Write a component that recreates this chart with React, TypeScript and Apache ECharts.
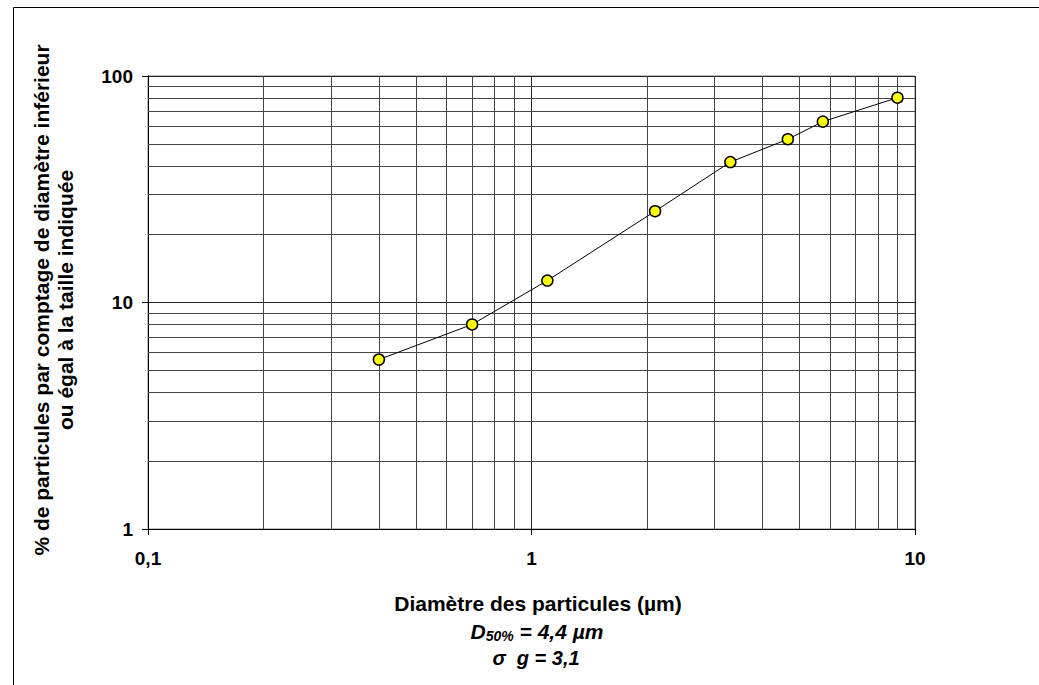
import React, { useEffect, useRef } from "react";
import * as echarts from "echarts";

const diameters = [0.4, 0.7, 1.1, 2.1, 3.3, 4.66, 5.75, 9.0];
const percents = [5.6, 8.0, 12.5, 25.3, 41.7, 52.6, 62.9, 80.2];
const xMinorGrid = [0.2, 0.3, 0.4, 0.5, 0.6, 0.7, 0.8, 0.9, 2, 3, 4, 5, 6, 7, 8, 9];
const yMinorGrid = [2, 3, 4, 5, 6, 7, 8, 9, 20, 30, 40, 50, 60, 70, 80, 90];
const yTitle1 = "% de particules par comptage de diamètre inférieur";
const yTitle2 = "ou égal à la taille indiquée";
const xTitle = "Diamètre des particules (µm)";

const FONT = "Liberation Sans, Arial, sans-serif";

export default function App() {
  const ref = useRef<HTMLDivElement>(null);
  useEffect(() => {
    if (!ref.current) return;
    const chart = echarts.init(ref.current, null, { renderer: "svg" });
    const fmt = (v: number) => String(v).replace(".", ",");
    const data = diameters.map((d, i) => [d, percents[i]]);
    chart.setOption({
      animation: false,
      backgroundColor: "#ffffff",
      textStyle: { fontFamily: FONT },
      grid: {
        left: 148,
        top: 76,
        right: 124,
        bottom: 156,
        show: true,
        borderColor: "#808080",
        borderWidth: 1,
      },
      xAxis: {
        type: "log",
        logBase: 10,
        min: 0.1,
        max: 10,
        axisLine: { show: true, lineStyle: { color: "#000", width: 1 } },
        axisTick: { show: true, length: 6, lineStyle: { color: "#000" } },
        axisLabel: {
          formatter: fmt,
          fontSize: 19,
          fontWeight: "bold",
          color: "#000",
          fontFamily: FONT,
          margin: 20,
        },
        splitLine: { show: true, lineStyle: { color: "#222", width: 1 } },
      },
      yAxis: {
        type: "log",
        logBase: 10,
        min: 1,
        max: 100,
        axisLine: { show: true, lineStyle: { color: "#000", width: 1 } },
        axisTick: { show: true, length: 6, lineStyle: { color: "#000" } },
        axisLabel: {
          formatter: fmt,
          fontSize: 19,
          fontWeight: "bold",
          color: "#000",
          fontFamily: FONT,
          margin: 15,
        },
        splitLine: { show: true, lineStyle: { color: "#222", width: 1 } },
      },
      series: [
        {
          type: "line",
          z: 3,
          data,
          symbol: "circle",
          symbolSize: 11,
          itemStyle: { color: "#ffff00", borderColor: "#000", borderWidth: 1.5 },
          lineStyle: { color: "#000", width: 1 },
          markLine: {
            silent: true,
            z: 1,
            symbol: ["none", "none"],
            label: { show: false },
            lineStyle: { type: "solid", color: "#444", width: 1 },
            data: [
              ...xMinorGrid.map((v) => ({ xAxis: v })),
              ...yMinorGrid.map((v) => ({ yAxis: v })),
            ],
          },
        },
      ],
      graphic: [
        {
          type: "rect",
          silent: true,
          shape: { x: 13.5, y: 7.5, width: 1100, height: 800 },
          style: { fill: "none", stroke: "#000", lineWidth: 1 },
          z: -1,
        },
        {
          type: "text",
          x: 41,
          y: 300,
          rotation: Math.PI / 2,
          style: {
            text: yTitle1,
            font: `bold 21px ${FONT}`,
            fill: "#000",
            align: "center",
            verticalAlign: "middle",
          },
        },
        {
          type: "text",
          x: 65,
          y: 300,
          rotation: Math.PI / 2,
          style: {
            text: yTitle2,
            font: `bold 21px ${FONT}`,
            fill: "#000",
            align: "center",
            verticalAlign: "middle",
          },
        },
        {
          type: "text",
          x: 538,
          y: 603,
          style: {
            text: xTitle,
            font: `bold 21px ${FONT}`,
            fill: "#000",
            align: "center",
            verticalAlign: "middle",
          },
        },
        {
          type: "text",
          x: 537,
          y: 631,
          style: {
            text: "{d|D}{s|50%}{d| = 4,4 µm}",
            align: "center",
            verticalAlign: "middle",
            rich: {
              d: {
                fontFamily: FONT,
                fontSize: 21,
                fontWeight: "bold",
                fontStyle: "italic",
                lineHeight: 24,
                fill: "#000",
              },
              s: {
                fontFamily: FONT,
                fontSize: 14,
                fontWeight: "bold",
                fontStyle: "italic",
                lineHeight: 14,
                verticalAlign: "bottom",
                fill: "#000",
              },
            },
          },
        },
        {
          type: "text",
          x: 536,
          y: 658,
          style: {
            text: "σ  g = 3,1",
            font: `italic bold 20px ${FONT}`,
            fill: "#000",
            align: "center",
            verticalAlign: "middle",
          },
        },
      ],
    });
    return () => chart.dispose();
  }, []);
  return (
    <div
      ref={ref}
      style={{ position: "fixed", left: 0, top: 0, width: 1039, height: 685 }}
    />
  );
}
